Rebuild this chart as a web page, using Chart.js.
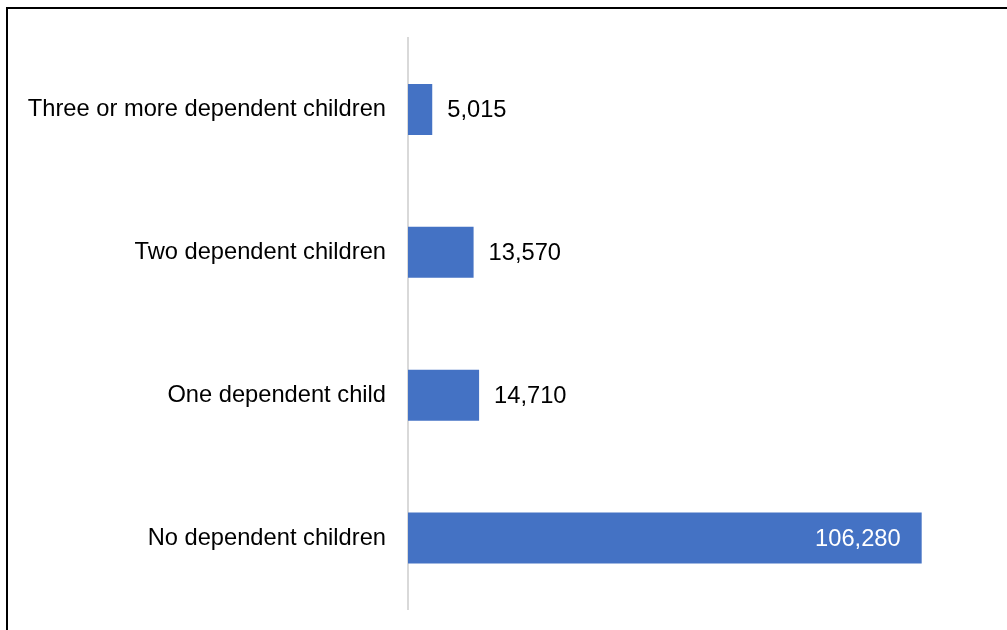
<!DOCTYPE html>
<html>
<head>
<meta charset="utf-8">
<script src="https://cdn.jsdelivr.net/npm/chart.js@4"></script>
<style>
  html, body { margin: 0; padding: 0; background: #fff; }
  #wrap { position: relative; width: 1007px; height: 630px; overflow: hidden; }
  #frame {
    position: absolute; left: 6px; top: 7px; width: 1100px; height: 700px;
    border-top: 2px solid #000; border-left: 2px solid #000;
  }
  canvas { position: absolute; left: 0; top: 0; }
</style>
</head>
<body>
<div id="wrap">
  <div id="frame"></div>
  <canvas id="kidsChart" width="1007" height="630"></canvas>
</div>
<script>
const categories = [
  "Three or more dependent children",
  "Two dependent children",
  "One dependent child",
  "No dependent children"
];
const households = [5015, 13570, 14710, 106280];

const FONT = "'Liberation Sans', Arial, sans-serif";

// value labels next to the bars (the big one goes inside, in white)
const valueLabels = {
  id: "valueLabels",
  afterDatasetsDraw(chart) {
    const ctx = chart.ctx;
    const meta = chart.getDatasetMeta(0);
    const biggest = Math.max(...households);
    ctx.save();
    ctx.font = "23.7px " + FONT;
    ctx.textBaseline = "middle";
    meta.data.forEach((bar, i) => {
      const text = households[i].toLocaleString("en-US");
      if (households[i] === biggest) {
        ctx.fillStyle = "#fff";
        ctx.textAlign = "right";
        ctx.fillText(text, bar.x - 21, bar.y + 1);
      } else {
        ctx.fillStyle = "#000";
        ctx.textAlign = "left";
        ctx.fillText(text, bar.x + 15, bar.y + 1);
      }
    });
    ctx.restore();
  }
};

const ctx = document.getElementById("kidsChart").getContext("2d");
new Chart(ctx, {
  type: "bar",
  data: {
    labels: categories,
    datasets: [{
      data: households,
      backgroundColor: "#4472C4",
      borderWidth: 0,
      categoryPercentage: 1,
      barPercentage: 0.357
    }]
  },
  options: {
    indexAxis: "y",
    responsive: false,
    animation: false,
    layout: { padding: { top: 38, bottom: 20.5, left: 0, right: 19 } },
    plugins: {
      legend: { display: false },
      tooltip: { enabled: false }
    },
    scales: {
      x: {
        display: false,
        min: 0,
        max: 120000
      },
      y: {
        afterFit(scale) {
          scale.width = 408;
          // tick padding would otherwise push the plot area in
          scale.paddingTop = 0;
          scale.paddingBottom = 0;
        },
        grid: { display: false, drawTicks: false },
        border: { display: true, color: "#d9d9d9", width: 2 },
        ticks: {
          padding: 22,
          color: "#000",
          font: { family: FONT, size: 23.7 }
        }
      }
    }
  },
  plugins: [valueLabels]
});
</script>
</body>
</html>
